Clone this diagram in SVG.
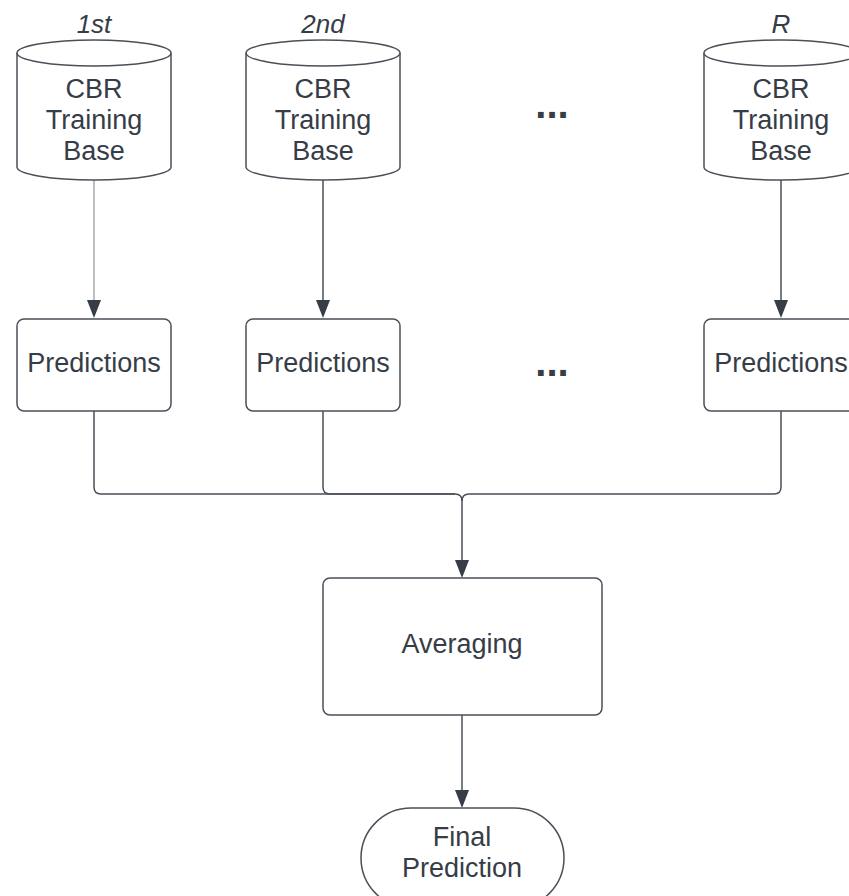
<svg xmlns="http://www.w3.org/2000/svg" width="849" height="896" viewBox="0 0 849 896">
<defs>
<style>
text{font-family:"Liberation Sans",Arial,sans-serif;fill:#363d47;text-anchor:middle}
.lbl{font-size:27px}
.it{font-size:26px;font-style:italic}
.shape{fill:#ffffff;stroke:#4b5058;stroke-width:1.5}
.conn{fill:none;stroke:#4b5058;stroke-width:1.5}
.thin{fill:none;stroke:#7a7f85;stroke-width:1}
.dots{font-size:40px;font-weight:bold}
.head{fill:#363d47}
</style>
</defs>
<rect width="849" height="896" fill="#ffffff"/>
<g id="connectors">
<path class="thin" d="M94,180 V302"/>
<polygon class="head" points="87,300 101,300 94,318"/>
<path class="conn" d="M323,180 V302"/>
<polygon class="head" points="316,300 330,300 323,318"/>
<path class="conn" d="M781,180 V302"/>
<polygon class="head" points="774,300 788,300 781,318"/>
<path class="conn" d="M94,411 V487 Q94,494 101,494 H455 Q462,494 462,501 V562"/>
<path class="conn" d="M323,411 V487 Q323,494 330,494 H455"/>
<path class="conn" d="M781,411 V487 Q781,494 774,494 H469 Q462,494 462,501"/>
<polygon class="head" points="455,560 469,560 462,578"/>
<path class="conn" d="M462,715 V792"/>
<polygon class="head" points="455,790 469,790 462,808"/>
</g>
<g id="label-1st"><text class="it" x="94" y="33">1st</text></g>
<g id="label-2nd"><text class="it" x="323" y="33">2nd</text></g>
<g id="label-R"><text class="it" x="781" y="33">R</text></g>
<g id="cyl1">
<path class="shape" d="M17,53 A77,13 0 0 1 171,53 V167 A77,13 0 0 1 17,167 Z"/>
<path class="shape" d="M17,53 A77,13 0 0 0 171,53" fill="none"/>
<text class="lbl" x="94" y="98">CBR</text>
<text class="lbl" x="94" y="129">Training</text>
<text class="lbl" x="94" y="160">Base</text>
</g>
<g id="cyl2">
<path class="shape" d="M246,53 A77,13 0 0 1 400,53 V167 A77,13 0 0 1 246,167 Z"/>
<path class="shape" d="M246,53 A77,13 0 0 0 400,53" fill="none"/>
<text class="lbl" x="323" y="98">CBR</text>
<text class="lbl" x="323" y="129">Training</text>
<text class="lbl" x="323" y="160">Base</text>
</g>
<g id="cylR">
<path class="shape" d="M704,53 A77,13 0 0 1 858,53 V167 A77,13 0 0 1 704,167 Z"/>
<path class="shape" d="M704,53 A77,13 0 0 0 858,53" fill="none"/>
<text class="lbl" x="781" y="98">CBR</text>
<text class="lbl" x="781" y="129">Training</text>
<text class="lbl" x="781" y="160">Base</text>
</g>
<g id="dots-top"><text class="dots" x="552" y="118">...</text></g>
<g id="pred1">
<rect class="shape" x="17" y="319" width="154" height="92" rx="7"/>
<text class="lbl" x="94" y="372">Predictions</text>
</g>
<g id="pred2">
<rect class="shape" x="246" y="319" width="154" height="92" rx="7"/>
<text class="lbl" x="323" y="372">Predictions</text>
</g>
<g id="predR">
<rect class="shape" x="704" y="319" width="154" height="92" rx="7"/>
<text class="lbl" x="781" y="372">Predictions</text>
</g>
<g id="dots-mid"><text class="dots" x="552" y="376">...</text></g>
<g id="averaging">
<rect class="shape" x="323" y="578" width="279" height="137" rx="7"/>
<text class="lbl" x="462" y="653">Averaging</text>
</g>
<g id="final">
<rect class="shape" x="361" y="808" width="203" height="100" rx="50"/>
<text class="lbl" x="462" y="846">Final</text>
<text class="lbl" x="462" y="877">Prediction</text>
</g>
</svg>
